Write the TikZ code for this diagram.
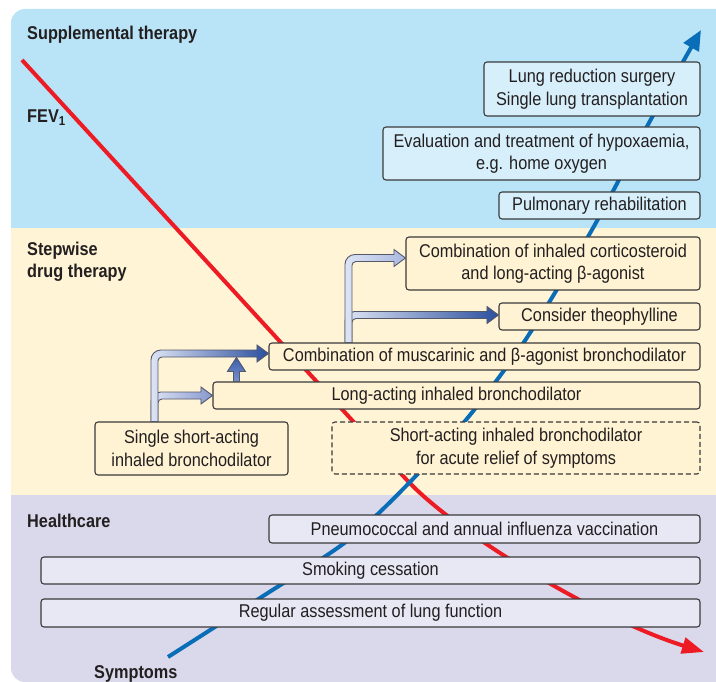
\documentclass[tikz,border=0pt]{standalone}
\usepackage{fontspec}
\setmainfont{Liberation Sans}[FakeStretch=0.88]
\usetikzlibrary{calc,arrows.meta}
\definecolor{bandblue}{HTML}{B9E4F8}
\definecolor{boxblue}{HTML}{D6EFFB}
\definecolor{bandyel}{HTML}{FFF4D5}
\definecolor{boxyel}{HTML}{FFF3D3}
\definecolor{bandlav}{HTML}{DAD9EB}
\definecolor{boxlav}{HTML}{E8E7F4}
\definecolor{boxline}{HTML}{3A3A3A}
\definecolor{textc}{HTML}{231F20}
\definecolor{redl}{HTML}{ED1C24}
\definecolor{bluel}{HTML}{0A6DB7}
\definecolor{pipelight}{HTML}{DDE4F4}
\definecolor{pipedark}{HTML}{2C4F9E}
\definecolor{pipemid}{HTML}{8798CE}
\definecolor{pipesoft}{HTML}{AAB8E0}
\definecolor{pipeline}{HTML}{55586A}
\definecolor{uptop}{HTML}{3A5DAC}
\definecolor{upbot}{HTML}{7A92CC}
\newcommand\boxfont{\fontsize{18.5}{22.5}\selectfont}
\newcommand\headfont{\bfseries\fontsize{18.5}{22}\selectfont}
\tikzset{
  box/.style={draw=boxline, line width=1.1pt, rounded corners=3pt, inner sep=0pt,
    align=center, font=\boxfont, text=textc},
  head/.style={font=\headfont, text=textc, inner sep=0pt, anchor=base west},
  pipestyle/.style={draw=pipeline, line width=0.9pt},
  redline/.style={draw=redl, line width=4pt, -{Triangle[length=22pt,width=16pt]}},
  blueline/.style={draw=bluel, line width=4pt, -{Triangle[length=20pt,width=17pt]}}
}
\newcommand\pipeL[4]{%
  \path[pipestyle, left color=#3, right color=#4] let \p1=(#1), \p2=(#2) in
   (\x1-3.5pt,\y1)
   [rounded corners=10pt] -- (\x1-3.5pt,\y2+3.5pt) -- (\x1+20pt,\y2+3.5pt)
   [sharp corners] -- (\x2-11.5pt,\y2+3.5pt) -- (\x2-11.5pt,\y2+8.5pt) -- (\x2,\y2)
   -- (\x2-11.5pt,\y2-8.5pt) -- (\x2-11.5pt,\y2-3.5pt) -- (\x1+20pt,\y2-3.5pt)
   [rounded corners=4pt] -- (\x1+3.5pt,\y2-3.5pt) -- (\x1+3.5pt,\y2-15.5pt)
   [sharp corners] -- (\x1+3.5pt,\y1) -- cycle;}
\begin{document}
\begin{tikzpicture}[x=1pt,y=-1pt]
\useasboundingbox (0,0) rectangle (716,682);
\fill[white] (0,0) rectangle (716,682);
\begin{scope}
  \clip[rounded corners=14pt] (740,9) -- (11,9) -- (11,682) -- (740,682) -- cycle;
  \fill[bandblue] (0,0) rectangle (716,228);
  \fill[bandyel] (0,228) rectangle (716,495);
  \fill[bandlav] (0,495) rectangle (716,682);
\end{scope}
% headings
\node[head] (hsupp) at (27,40) {Supplemental therapy};
\node[head] (hfev) at (27,123) {FEV\textsubscript{1}};
\node[head] (hstep1) at (27,256) {Stepwise};
\node[head] (hstep2) at (27,278) {drug therapy};
\node[head] (hhealth) at (27,527) {Healthcare};
\node[head] (hsympt) at (94,678) {Symptoms};
% trend lines
\coordinate (r0) at (22,60);
\coordinate (r1) at (405,478);
\coordinate (r2) at (704,652);
\draw[redline] (r0) -- (r1) .. controls (455,533) and (600,620) .. (r2);
\draw[blueline] plot[smooth, tension=0.5] coordinates {(168,657) (260,598) (347,541) (410,482) (470,415) (528,336) (593,228) (650,121) (701,30)};
% supplemental boxes
\node[box, fill=boxblue, minimum width=216pt, minimum height=54pt] (lung) at (592,89) {Lung reduction surgery\\Single lung transplantation};
\node[box, fill=boxblue, minimum width=317pt, minimum height=53pt] (hypox) at (541.5,153.5) {Evaluation and treatment of hypoxaemia,\\e.g. home oxygen};
\node[box, fill=boxblue, minimum width=201pt, minimum height=27pt] (rehab) at (599.5,205.5) {Pulmonary rehabilitation};
% stepwise boxes
\node[box, fill=boxyel, minimum width=294pt, minimum height=53pt] (ics) at (553,263.5) {Combination of inhaled corticosteroid\\and long-acting β-agonist};
\node[box, fill=boxyel, minimum width=201pt, minimum height=27pt] (theo) at (599.5,316.5) {Consider theophylline};
\node[box, fill=boxyel, minimum width=431pt, minimum height=27pt] (musc) at (484.5,356.5) {Combination of muscarinic and β-agonist bronchodilator};
\node[box, fill=boxyel, minimum width=487pt, minimum height=27pt] (laba) at (456.5,395.5) {Long-acting inhaled bronchodilator};
\node[box, fill=boxyel, minimum width=193pt, minimum height=53pt] (saba) at (191.5,448.5) {Single short-acting\\inhaled bronchodilator};
\node[box, fill=boxyel, dash pattern=on 5pt off 3pt, minimum width=368pt, minimum height=52pt] (acute) at (516,448) {Short-acting inhaled bronchodilator\\for acute relief of symptoms};
% healthcare boxes
\node[box, fill=boxlav, minimum width=431pt, minimum height=28pt] (vacc) at (484.5,529) {Pneumococcal and annual influenza vaccination};
\node[box, fill=boxlav, minimum width=659pt, minimum height=27pt] (smoke) at (370.5,570.5) {Smoking cessation};
\node[box, fill=boxlav, minimum width=659pt, minimum height=28pt] (assess) at (370.5,613) {Regular assessment of lung function};
% pipe arrows, group 1
\coordinate (p1s) at ($(saba.north west)+(60,0)$);
\pipeL{p1s}{laba.west}{pipelight}{pipemid}
\coordinate (t1) at ($(musc.west)+(0,-3)$);
\pipeL{p1s}{t1}{pipelight}{pipedark}
\coordinate (ua) at ($(laba.north west)+(24,0)$);
\path[pipestyle, top color=uptop, bottom color=upbot] let \p1=(ua) in
  (\x1-3pt,\y1) -- (\x1-3pt,\y1+10pt) -- (\x1-9pt,\y1+10pt) -- (\x1,\y1+24pt)
  -- (\x1+9pt,\y1+10pt) -- (\x1+3pt,\y1+10pt) -- (\x1+3pt,\y1) -- cycle;
% pipe arrows, group 2
\coordinate (p2s) at ($(musc.north west)+(80,0)$);
\coordinate (t3) at ($(theo.west)+(0,-1.5)$);
\pipeL{p2s}{t3}{pipelight}{pipedark}
\coordinate (t2) at ($(ics.west)+(0,-5.5)$);
\pipeL{p2s}{t2}{pipelight}{pipesoft}
\end{tikzpicture}
\end{document}
